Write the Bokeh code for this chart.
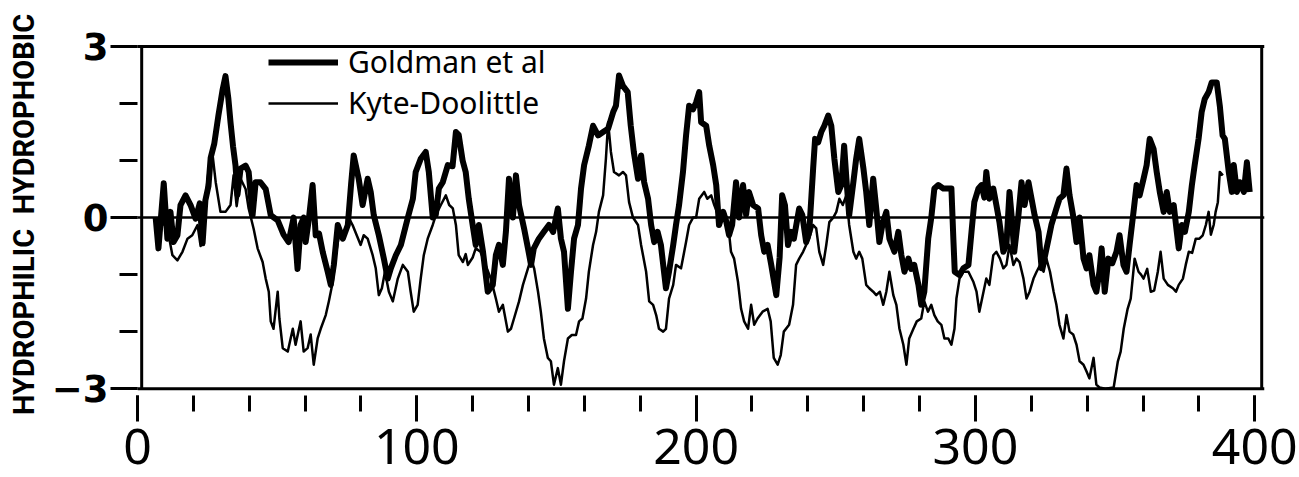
from bokeh.plotting import figure
from bokeh.models import Range1d, FixedTicker, Legend, Span
from bokeh.embed import file_html
from bokeh.resources import INLINE

# Hydropathy profiles (residue number, 11-residue window average)
goldman_res = [6.5, 7.5, 9.4, 10.7, 11.8, 12.9, 14.3, 15.4, 17.2, 19.0, 20.8, 22.3, 23.3, 24.3, 25.4,
               26.2, 27.5, 29.0, 30.5, 31.5, 32.5, 33.3, 34.2, 35.1, 35.8, 36.9, 38.7, 39.8, 41.2, 42.3,
               44.0, 45.9, 47.7, 50.2, 52.3, 54.1, 55.9, 57.3, 58.4, 59.5, 60.2, 61.3, 62.7, 63.8, 65.0,
               66.3, 68.1, 69.2, 70.3, 71.7, 73.5, 75.3, 76.5, 77.4, 79.2, 80.6, 82.4, 83.5, 84.6, 86.4,
               88.2, 89.6, 90.7, 92.5, 94.3, 96.8, 98.6, 99.6, 101.4, 103.2, 104.3, 105.7, 106.8, 107.9,
               109.3, 111.1, 112.8, 114.0, 115.0, 116.4, 117.5, 118.6, 120.0, 121.1, 122.2, 123.7, 125.4,
               127.2, 128.3, 129.4, 130.8, 131.9, 133.0, 134.4, 135.5, 136.6, 138.4, 139.8, 140.9, 141.9,
               143.7, 145.5, 147.3, 148.8, 150.5, 151.6, 152.7, 154.1, 155.2, 156.3, 157.7, 158.8, 159.9,
               161.6, 163.1, 164.9, 166.7, 168.5, 170.3, 171.3, 172.4, 173.8, 175.5, 176.6, 177.7, 179.2,
               180.3, 181.4, 182.8, 183.9, 185.0, 186.2, 187.4, 188.5, 189.2, 190.3, 191.8, 192.8, 193.9,
               195.3, 196.4, 197.5, 198.9, 200.0, 201.1, 201.8, 203.6, 204.7, 206.1, 207.2, 208.2, 209.7,
               210.7, 211.8, 212.9, 214.3, 215.4, 216.8, 217.9, 218.9, 220.4, 222.2, 223.3, 224.4, 225.6,
               226.9, 228.7, 229.9, 230.8, 231.8, 232.9, 234.0, 235.0, 236.9, 238.0, 239.4, 240.5, 241.9,
               242.6, 243.7, 244.8, 245.9, 247.3, 248.4, 249.5, 250.9, 252.0, 253.0, 253.8, 254.8, 256.3,
               257.3, 258.4, 259.9, 260.9, 262.0, 263.4, 264.5, 265.6, 266.8, 268.1, 269.2, 271.0, 272.4,
               273.5, 274.6, 276.0, 277.0, 278.1, 279.6, 280.6, 281.7, 283.1, 284.2, 285.3, 286.7, 288.5,
               289.6, 291.4, 292.1, 292.6, 294.3, 295.7, 297.5, 298.6, 299.6, 301.1, 302.2, 303.2, 303.9,
               305.0, 306.4, 307.5, 308.6, 310.0, 311.1, 312.2, 313.0, 313.9, 315.4, 316.5, 317.6, 319.0,
               320.1, 321.2, 322.6, 323.7, 324.7, 326.2, 327.2, 329.0, 330.1, 331.5, 332.6, 333.7, 335.1,
               336.2, 337.3, 338.7, 339.8, 340.8, 342.3, 343.3, 344.4, 345.2, 346.3, 347.6, 349.0, 350.5,
               351.6, 353.0, 354.1, 355.2, 356.6, 357.7, 358.8, 360.2, 361.3, 362.4, 363.8, 364.9, 366.0,
               367.4, 368.5, 369.6, 371.0, 372.1, 372.8, 373.9, 375.0, 376.4, 377.5, 378.5, 379.9, 381.0,
               382.1, 383.5, 384.6, 386.4, 387.5, 388.5, 389.3, 390.7, 391.8, 392.5, 393.6, 394.6, 396.1,
               397.2, 398.2]
goldman_val = [0.00, -0.54, 0.60, -0.37, 0.10, -0.43, -0.31, 0.22, 0.39, 0.22, -0.02, 0.25, -0.45, 0.30, 0.55,
               1.05, 1.30, 1.80, 2.25, 2.48, 2.10, 1.67, 1.25, 0.91, 0.40, 0.86, 0.91, 0.80, 0.04, 0.62,
               0.62, 0.50, 0.04, -0.05, -0.30, -0.43, 0.00, -0.90, -0.13, 0.00, -0.43, -0.05, 0.57, -0.31, -0.28,
               -0.60, -0.95, -1.18, -0.83, -0.13, -0.37, -0.13, 0.60, 1.09, 0.68, 0.22, 0.68, 0.45, 0.04, -0.31,
               -0.72, -1.07, -0.89, -0.66, -0.48, 0.00, 0.33, 0.80, 1.03, 1.15, 0.80, 0.00, 0.05, 0.51,
               0.62, 0.92, 0.90, 1.50, 1.45, 1.00, 0.80, 0.33, -0.13, -0.48, -0.13, -0.60, -1.30,
               -1.18, -0.66, -0.48, -0.83, -0.25, 0.68, 0.00, 0.74, 0.22, -0.19, -0.54, -0.83, -0.54,
               -0.37, -0.25, -0.13, -0.25, 0.16, -0.37, -0.60, -1.60, -0.95, -0.37, -0.13, 0.51, 0.92,
               1.26, 1.61, 1.44, 1.50, 1.56, 1.85, 1.96, 2.49, 2.31, 2.20, 1.61, 1.15, 0.68,
               1.09, 0.62, 0.33, -0.13, -0.43, -0.25, -0.48, -0.95, -1.24, -0.95, -0.48, -0.13, 0.22,
               0.80, 1.44, 1.96, 1.90, 2.02, 2.20, 1.67, 1.61, 1.26, 0.92, 0.57, -0.13, 0.10,
               -0.05, -0.31, -0.13, 0.62, 0.00, 0.57, 0.05, 0.45, 0.22, 0.16, -0.31, -0.60, -0.48,
               -0.83, -1.36, -0.70, 0.39, 0.22, -0.48, -0.25, -0.37, 0.16, 0.05, -0.43, -0.25, 0.86,
               1.38, 1.32, 1.50, 1.61, 1.79, 1.61, 1.03, 0.45, 0.57, 1.26, 0.68, 0.04, 0.62,
               1.03, 1.38, 0.86, 0.45, -0.13, 0.68, 0.16, -0.43, -0.10, 0.10, -0.37, -0.60, -0.25,
               -0.66, -0.95, -0.72, -0.90, -0.83, -1.18, -1.53, -1.30, -0.37, 0.00, 0.51, 0.57, 0.51,
               0.51, 0.51, -0.37, -0.95, -1.01, -0.89, -0.83, -0.25, 0.27, 0.51, 0.57, 0.35, 0.80,
               0.33, 0.51, 0.22, -0.08, -0.60, -0.48, 0.45, 0.00, -0.60, 0.04, 0.62, 0.22, 0.62,
               0.33, 0.04, -0.25, -0.89, -0.72, -0.37, -0.13, 0.16, 0.33, 0.39, 0.86, 0.39, 0.00,
               -0.43, 0.00, -0.72, -0.89, -0.66, -1.18, -1.30, -0.95, -0.54, -1.30, -0.72, -0.80, -0.60,
               -0.31, -0.83, -0.95, -0.48, 0.10, 0.57, 0.39, 0.68, 0.92, 1.38, 1.20, 0.80, 0.45,
               0.10, 0.45, 0.10, 0.22, -0.25, -0.54, -0.13, -0.25, 0.10, 0.57, 0.92, 1.38, 1.85,
               2.08, 2.20, 2.37, 2.37, 1.96, 1.44, 1.38, 0.80, 0.45, 0.92, 0.45, 0.62, 0.45,
               0.97, 0.45]

kd_res = [6.5, 8.0, 10.0, 11.5, 12.5, 14.3, 16.1, 17.9, 19.6, 21.5, 22.6, 23.7, 25.4, 26.9, 28.0,
          29.7, 31.5, 33.3, 34.4, 35.5, 36.9, 38.7, 39.8, 41.6, 43.0, 44.8, 45.9, 47.0, 47.7, 48.7,
          50.2, 50.8, 52.0, 53.8, 55.6, 56.6, 58.4, 59.5, 60.9, 62.0, 63.1, 64.5, 65.6, 67.4, 68.5,
          69.9, 71.0, 72.1, 73.8, 75.6, 77.0, 79.9, 81.0, 82.4, 84.2, 85.3, 86.4, 87.5, 88.6, 90.0,
          91.4, 93.2, 95.0, 96.8, 97.8, 98.9, 100.3, 101.4, 102.5, 103.9, 105.7, 106.8, 108.6, 110.4,
          111.6, 112.9, 114.0, 115.0, 116.5, 117.5, 118.3, 120.0, 121.1, 122.8, 124.6, 126.5, 128.3,
          129.4, 130.8, 132.6, 133.7, 134.8, 136.6, 138.0, 139.8, 140.9, 142.0, 143.4, 144.4, 145.5,
          146.9, 148.0, 149.1, 150.5, 151.6, 152.7, 154.1, 155.5, 157.0, 158.1, 159.3, 160.6, 161.6,
          163.1, 164.2, 165.2, 166.7, 167.7, 168.5, 169.5, 170.6, 172.4, 173.8, 174.9, 176.0, 177.4,
          179.2, 180.3, 182.1, 183.2, 184.6, 185.7, 186.7, 188.2, 189.2, 190.3, 191.8, 192.8, 194.6,
          196.4, 197.5, 198.9, 200.0, 201.1, 202.9, 204.0, 205.4, 206.5, 207.9, 209.0, 210.2, 211.5,
          212.5, 213.6, 215.0, 216.1, 217.2, 218.6, 219.7, 220.8, 222.0, 223.8, 225.6, 226.7, 227.8,
          229.2, 230.3, 231.4, 233.3, 234.7, 235.8, 236.9, 238.3, 239.4, 240.5, 241.9, 243.0, 244.1,
          245.5, 246.6, 247.7, 249.1, 250.2, 251.3, 252.5, 253.8, 254.8, 256.3, 257.3, 258.4, 259.5,
          260.9, 262.0, 263.4, 264.5, 265.8, 267.0, 268.1, 269.2, 270.6, 271.7, 272.8, 274.2, 275.3,
          276.3, 277.8, 279.0, 280.6, 281.7, 283.0, 284.2, 285.3, 286.5, 287.8, 288.9, 290.3, 291.4,
          292.5, 293.2, 294.3, 295.7, 297.5, 299.3, 300.4, 301.4, 302.9, 303.9, 305.0, 306.4, 307.5,
          308.8, 310.0, 311.1, 312.2, 313.6, 314.7, 315.8, 317.2, 318.3, 319.4, 320.8, 321.9, 323.2,
          324.4, 325.4, 326.7, 328.0, 329.0, 330.1, 331.5, 332.6, 333.7, 335.0, 336.2, 337.3, 338.7,
          339.8, 340.8, 342.3, 343.3, 344.4, 346.5, 349.5, 351.0, 352.0, 353.1, 354.5, 355.6, 356.3,
          357.0, 358.4, 359.3, 360.2, 361.5, 362.8, 364.0, 365.3, 366.3, 367.4, 368.9, 370.7, 371.8,
          372.8, 374.3, 375.3, 376.4, 377.6, 378.9, 380.2, 381.4, 382.5, 383.5, 384.3, 385.3, 386.0,
          386.8, 387.5, 388.6]
kd_val = [0.00, -0.15, -0.10, -0.40, -0.66, -0.75, -0.60, -0.37, -0.31, -0.13, -0.50, 0.04, 0.80, 1.09, 0.62,
          0.10, 0.10, 0.22, 0.74, 0.20, 0.68, 0.50, 0.16, -0.20, -0.54, -0.78, -1.07, -1.30, -1.82, -1.95,
          -1.30, -1.77, -2.29, -2.35, -1.95, -2.23, -1.82, -2.35, -2.29, -2.05, -2.58, -2.12, -1.95, -1.71, -1.47,
          -1.13, -0.66, -0.31, -0.37, 0.00, -0.13, -0.48, -0.31, -0.37, -0.66, -0.89, -1.36, -1.24, -0.95, -1.30,
          -1.47, -1.07, -0.83, -0.95, -1.30, -1.65, -1.53, -1.07, -0.66, -0.37, -0.13, 0.04, 0.22, 0.39,
          0.22, 0.16, -0.13, -0.66, -0.78, -0.64, -0.83, -0.70, -0.54, -0.60, -0.83, -1.07, -1.42,
          -1.65, -1.53, -2.00, -1.95, -1.77, -1.47, -1.18, -0.89, -0.72, -0.89, -1.30, -1.65, -2.12,
          -2.46, -2.52, -2.93, -2.64, -2.93, -2.52, -2.12, -2.06, -2.06, -1.82, -1.77, -1.42, -0.95,
          -0.48, -0.25, 0.10, 0.39, 1.03, 1.67, 1.15, 0.80, 0.74, 0.80, 0.74, 0.27, 0.00,
          -0.13, -0.48, -0.95, -1.47, -1.53, -1.71, -1.95, -2.00, -1.95, -1.42, -1.18, -0.83, -0.89,
          -0.43, -0.13, 0.00, 0.00, 0.33, 0.45, 0.33, 0.39, 0.22, 0.04, 0.00, 0.10, -0.13,
          -0.60, -0.72, -1.13, -1.60, -1.82, -1.95, -1.53, -1.88, -1.77, -1.65, -1.60, -1.82, -2.46,
          -2.58, -2.41, -2.00, -1.88, -1.53, -0.83, -0.72, -0.60, -0.48, -0.37, -0.13, -0.19, -0.60,
          -0.83, -0.48, -0.08, 0.00, 0.10, 0.33, 0.22, 0.39, -0.13, -0.60, -0.72, -0.60, -0.72,
          -1.18, -1.24, -1.30, -1.36, -1.30, -1.53, -1.30, -0.95, -1.36, -1.53, -1.95, -2.23, -2.58,
          -2.12, -1.95, -1.82, -1.77, -1.47, -1.65, -1.53, -1.71, -1.82, -1.88, -2.12, -2.12, -2.23,
          -1.95, -1.42, -1.07, -0.95, -0.95, -1.13, -1.30, -1.65, -1.30, -1.07, -1.18, -0.66, -0.60,
          -0.72, -0.89, -0.83, -0.48, -0.83, -0.72, -0.78, -1.07, -1.42, -1.30, -1.07, -0.95, -0.83,
          -0.95, -0.72, -0.95, -1.30, -1.53, -1.88, -2.12, -1.71, -2.00, -2.05, -2.23, -2.52, -2.58,
          -2.70, -2.82, -2.46, -2.93, -2.98, -3.00, -2.98, -2.52, -2.35, -1.95, -1.60, -1.42, -1.07,
          -0.72, -0.95, -1.00, -1.07, -0.90, -1.30, -1.28, -0.95, -0.60, -1.07, -1.18, -1.24, -1.30,
          -1.18, -1.07, -0.83, -0.60, -0.62, -0.37, -0.37, -0.31, -0.13, 0.10, -0.30, -0.13, 0.10,
          0.27, 0.80, 0.74]

x_major = [0, 100, 200, 300, 400]
x_minor = list(range(0, 401, 20))
y_major = [-3, 0, 3]
y_minor = [-3, -2, -1, 0, 1, 2, 3]

NUM_FONT = "Noto Sans"
Y_NUM_FONT = "DejaVu Sans"
TITLE_FONT = "Liberation Sans Narrow, Roboto, sans-serif"
NBSP = "\u00a0"

p = figure(width=1299, height=477,
           x_range=Range1d(0, 403.5), y_range=Range1d(-3.12, 3.105),
           output_backend="svg", toolbar_location=None,
           min_border_left=137, min_border_right=35, min_border_top=40, min_border_bottom=82)
p.outline_line_color = None
p.grid.visible = False
p.background_fill_color = "white"
p.border_fill_color = "white"

# frame drawn as plain lines so the x ticks hang below it with a small gap
p.add_layout(Span(location=3, dimension="width", line_color="black", line_width=3))
p.add_layout(Span(location=-3, dimension="width", line_color="black", line_width=3))
p.add_layout(Span(location=0, dimension="width", line_color="black", line_width=2.5))
p.segment(x0=[1.5, 402.5], y0=[-3, -3], x1=[1.5, 402.5], y1=[3, 3], line_color="black", line_width=3)

kd = p.line(kd_res, kd_val, line_color="black", line_width=2.5, line_join="round")
gm = p.line(goldman_res, goldman_val, line_color="black", line_width=6, line_join="round")

xa = p.xaxis[0]
xa.ticker = FixedTicker(ticks=x_major, minor_ticks=x_minor)
xa.axis_line_color = None
xa.major_tick_in = 0
xa.major_tick_out = 26
xa.minor_tick_in = 0
xa.minor_tick_out = 16
xa.major_tick_line_width = 3
xa.minor_tick_line_width = 3
xa.major_label_standoff = 7
xa.major_label_text_font = NUM_FONT
xa.major_label_text_font_size = "50px"
xa.major_label_text_color = "black"

ya = p.yaxis[0]
ya.ticker = FixedTicker(ticks=y_major, minor_ticks=y_minor)
ya.axis_line_color = None
ya.major_tick_in = 0
ya.major_tick_out = 27
ya.minor_tick_in = 0
ya.minor_tick_out = 18
ya.major_tick_line_width = 3
ya.minor_tick_line_width = 3
ya.major_label_standoff = 2
ya.major_label_text_font = Y_NUM_FONT
ya.major_label_text_font_style = "bold"
ya.major_label_text_font_size = "37px"
ya.major_label_text_color = "black"
ya.axis_label = NBSP + "HYDROPHILIC" + NBSP * 2 + "HYDROPHOBIC"
ya.axis_label_text_font = TITLE_FONT
ya.axis_label_text_font_style = "bold"
ya.axis_label_text_font_size = "29px"
ya.axis_label_text_color = "black"
ya.axis_label_standoff = 8

legend = Legend(items=[("Goldman et al", [gm]), ("Kyte-Doolittle", [kd])],
                location=(131, 272), glyph_width=70, glyph_height=30, label_height=30,
                spacing=0, padding=0, margin=0, label_standoff=10,
                border_line_color=None, background_fill_alpha=0,
                label_text_font=NUM_FONT, label_text_font_size="30px", label_text_color="black")
p.add_layout(legend)

open("out.html", "w").write(file_html(p, INLINE))
